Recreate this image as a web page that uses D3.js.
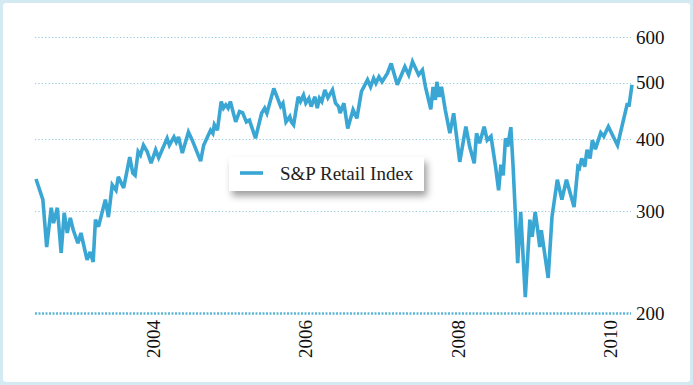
<!DOCTYPE html>
<html>
<head>
<meta charset="utf-8">
<script src="https://cdn.jsdelivr.net/npm/d3@7"></script>
<style>
  html, body { margin: 0; padding: 0; background: #d3eaf3; }
  svg { display: block; }
</style>
</head>
<body>
<svg id="chart" width="693" height="385"></svg>
<script>
// Decimal-year dates of the observations
const dates = [
  2002.46, 2002.55, 2002.60, 2002.66, 2002.69, 2002.74, 2002.79, 2002.83, 2002.87, 2002.91,
  2002.95, 2003.01, 2003.05, 2003.13, 2003.17, 2003.21, 2003.24, 2003.28, 2003.37, 2003.41,
  2003.46, 2003.51, 2003.54, 2003.61, 2003.69, 2003.73, 2003.76, 2003.80, 2003.83, 2003.87,
  2003.92, 2003.97, 2004.03, 2004.07, 2004.18, 2004.21, 2004.27, 2004.30, 2004.33, 2004.38,
  2004.46, 2004.51, 2004.62, 2004.66, 2004.75, 2004.78, 2004.80, 2004.84, 2004.89, 2004.92,
  2004.95, 2004.98, 2005.01, 2005.08, 2005.13, 2005.17, 2005.22, 2005.26, 2005.34, 2005.42,
  2005.46, 2005.49, 2005.58, 2005.67, 2005.70, 2005.74, 2005.79, 2005.81, 2005.84, 2005.90,
  2005.93, 2005.97, 2006.00, 2006.04, 2006.07, 2006.12, 2006.15, 2006.18, 2006.21, 2006.25,
  2006.29, 2006.35, 2006.39, 2006.43, 2006.45, 2006.50, 2006.55, 2006.62, 2006.67, 2006.73,
  2006.81, 2006.85, 2006.89, 2006.92, 2006.96, 2007.00, 2007.07, 2007.12, 2007.20, 2007.30,
  2007.35, 2007.40, 2007.48, 2007.53, 2007.57, 2007.64, 2007.67, 2007.70, 2007.72, 2007.75,
  2007.78, 2007.83, 2007.89, 2007.94, 2008.02, 2008.10, 2008.15, 2008.21, 2008.24, 2008.28,
  2008.34, 2008.38, 2008.43, 2008.49, 2008.53, 2008.56, 2008.59, 2008.62, 2008.65, 2008.69,
  2008.72, 2008.78, 2008.82, 2008.88, 2008.94, 2008.97, 2009.01, 2009.04, 2009.07, 2009.09,
  2009.18, 2009.23, 2009.30, 2009.36, 2009.42, 2009.52, 2009.57, 2009.59, 2009.62, 2009.66,
  2009.69, 2009.73, 2009.76, 2009.80, 2009.87, 2009.91, 2009.97, 2010.09, 2010.22, 2010.24,
  2010.28
];
// S&P Retail Index values
const values = [
  341, 314, 260, 304, 286, 304, 254, 298, 275, 292,
  278, 264, 275, 247, 255, 245, 290, 282, 314, 293,
  333, 326, 344, 329, 372, 349, 346, 380, 375, 390,
  380, 363, 383, 371, 401, 390, 403, 395, 403, 378,
  411, 398, 366, 390, 414, 409, 423, 414, 464, 452,
  458, 452, 464, 428, 446, 444, 428, 431, 401, 443,
  452, 443, 489, 455, 461, 428, 437, 428, 423, 473,
  464, 476, 461, 470, 455, 473, 452, 470, 464, 486,
  471, 486, 461, 455, 443, 461, 417, 449, 434, 483,
  506, 492, 509, 499, 512, 502, 519, 540, 496, 533,
  516, 544, 516, 526, 492, 450, 492, 467, 502, 473,
  492, 449, 409, 443, 365, 420, 388, 363, 409, 393,
  420, 398, 404, 358, 326, 361, 346, 401, 388, 419,
  358, 244, 299, 213, 290, 271, 299, 280, 260, 278,
  230, 293, 340, 314, 340, 305, 358, 356, 370, 358,
  383, 370, 398, 384, 410, 404, 420, 390, 461, 455,
  496
];
const seriesName = "S&P Retail Index";
const yTicks = [200, 300, 400, 500, 600];
const xTicks = [2004, 2006, 2008, 2010];

const svg = d3.select("#chart");
const W = 693, H = 385;

const defs = svg.append("defs");
const f = defs.append("filter").attr("id", "shadow")
  .attr("x", "-20%").attr("y", "-40%").attr("width", "140%").attr("height", "200%");
f.append("feDropShadow").attr("dx", 3).attr("dy", 5).attr("stdDeviation", 3.5)
  .attr("flood-color", "#000").attr("flood-opacity", 0.38);

// Frame
svg.append("rect").attr("x", 0).attr("y", 0).attr("width", W).attr("height", H).attr("fill", "#d3eaf3");
svg.append("rect").attr("x", 3).attr("y", 3).attr("width", W - 6).attr("height", H - 6)
  .attr("rx", 3).attr("fill", "#ffffff");

const x = d3.scaleLinear().domain([2002.46, 2010.28]).range([36, 632]);
const y = d3.scaleLog().domain([200, 600]).range([313, 37]);

const gridX0 = 35, gridX1 = 631;

// Grid lines
svg.append("g").selectAll("line").data(yTicks).join("line")
  .attr("x1", gridX0).attr("x2", gridX1)
  .attr("y1", d => Math.round(y(d)) + 0.5).attr("y2", d => Math.round(y(d)) + 0.5)
  .attr("stroke", d => d === 200 ? "#5fb6d7" : "#8fc9df")
  .attr("stroke-width", d => d === 200 ? 2.5 : 1.2)
  .attr("stroke-dasharray", d => d === 200 ? "2,1.5" : "1.2,2.2");

// Y labels (right)
svg.append("g").selectAll("text").data(yTicks).join("text")
  .attr("x", 636).attr("y", d => y(d)).attr("dy", "0.35em")
  .attr("font-family", "'Liberation Serif', 'Times New Roman', serif")
  .attr("font-size", 19).attr("fill", "#111")
  .text(d => d);

// X labels rotated
svg.append("g").selectAll("text").data(xTicks).join("text")
  .attr("transform", d => `translate(${x(d)},320) rotate(-90)`)
  .attr("text-anchor", "end").attr("dy", "0.35em")
  .attr("font-family", "'Liberation Serif', 'Times New Roman', serif")
  .attr("font-size", 19).attr("fill", "#111")
  .text(d => d);

// Line
const data = dates.map((d, i) => ({ t: d, v: values[i] }));
const line = d3.line().x(d => x(d.t)).y(d => y(d.v));
svg.append("path").datum(data)
  .attr("d", line).attr("fill", "none")
  .attr("stroke", "#3aa6d3").attr("stroke-width", 3.6)
  .attr("stroke-linejoin", "miter").attr("stroke-miterlimit", 3);

// Legend
const lg = svg.append("g").attr("transform", "translate(229,157)");
lg.append("rect").attr("width", 195).attr("height", 34).attr("fill", "#fff")
  .attr("filter", "url(#shadow)");
lg.append("line").attr("x1", 11).attr("x2", 34).attr("y1", 16).attr("y2", 16)
  .attr("stroke", "#3aa6d3").attr("stroke-width", 3.6);
lg.append("text").attr("x", 51).attr("y", 16).attr("dy", "0.35em")
  .attr("font-family", "'Liberation Serif', 'Times New Roman', serif")
  .attr("font-size", 19).attr("fill", "#222")
  .text(seriesName);
</script>
</body>
</html>
